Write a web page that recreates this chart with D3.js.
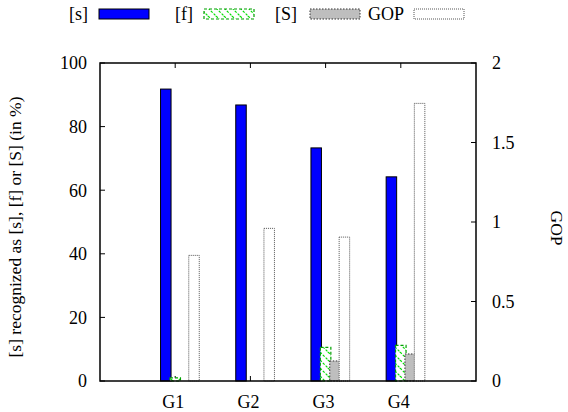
<!DOCTYPE html>
<html><head><meta charset="utf-8">
<script src="https://cdn.jsdelivr.net/npm/d3@7"></script>
<style>body{margin:0;background:#fff}</style>
</head><body><svg id="c" width="568" height="412" font-family="Liberation Serif, serif"></svg>
<script>
const groups = ["G1","G2","G3","G4"];
const sValues = [91.8, 86.8, 73.3, 64.2];
const fValues = [1.0, 0, 10.6, 11.2];
const SValues = [0, 0, 6.3, 8.5];
const gopValues = [0.79, 0.96, 0.905, 1.746];
const leftTicks = [0,20,40,60,80,100];
const rightTicks = [0,0.5,1,1.5,2];
const legendLabels = ["[s]","[f]","[S]","GOP"];

const FONT = "Liberation Serif, serif";
const svg = d3.select("#c");
const L=100, R=476, T=63, B=381;
const x = d3.scaleLinear().domain([-1,4]).range([L,R]);
const yL = d3.scaleLinear().domain([0,100]).range([B,T]);
const yR = d3.scaleLinear().domain([0,2]).range([B,T]);

const defs = svg.append("defs");
const pat = defs.append("pattern").attr("id","hatch").attr("patternUnits","userSpaceOnUse")
  .attr("width",8).attr("height",8);
pat.append("rect").attr("width",8).attr("height",8).attr("fill","#fff");
pat.append("path").attr("d","M0,0 L8,8 M-4,4 L0,8 M4,-4 L12,4").attr("stroke","#00e000").attr("stroke-width",1.2).attr("stroke-dasharray","2.5,1.5");

const slot = 0.125, bw = 10.5;
const series = [
  {vals:sValues, scale:yL, off:-1, fill:"#0000ff", stroke:"#000", dash:null, sw:1},
  {vals:fValues, scale:yL, off:0, fill:"url(#hatch)", stroke:"#00a000", dash:"3,2", sw:1.2},
  {vals:SValues, scale:yL, off:1, fill:"#bebebe", stroke:"#333", dash:"1.5,1.5", sw:1},
  {vals:gopValues, scale:yR, off:2, fill:"#fff", stroke:"#555", dash:"1,1", sw:1}
];

const txt = (sel)=>sel.attr("font-family",FONT).style("font-family",FONT).attr("fill","#000");

// axes ticks
const gAx = svg.append("g");
gAx.selectAll(".lt").data(leftTicks).join("line")
  .attr("x1",L).attr("x2",L+5).attr("y1",d=>yL(d)).attr("y2",d=>yL(d)).attr("stroke","#000");
txt(gAx.selectAll(".ltl").data(leftTicks).join("text")
  .attr("x",L-13).attr("y",d=>yL(d)).attr("dy","0.35em").attr("text-anchor","end")
  .attr("font-size",18).text(d=>d));
gAx.selectAll(".rt").data(rightTicks).join("line")
  .attr("x1",R-5).attr("x2",R).attr("y1",d=>yR(d)).attr("y2",d=>yR(d)).attr("stroke","#000");
txt(gAx.selectAll(".rtl").data(rightTicks).join("text")
  .attr("x",R+16).attr("y",d=>yR(d)).attr("dy","0.35em").attr("text-anchor","start")
  .attr("font-size",18).text(d=>d));
gAx.selectAll(".tt").data(groups).join("line")
  .attr("x1",(d,i)=>x(i)).attr("x2",(d,i)=>x(i)).attr("y1",T).attr("y2",T+5).attr("stroke","#000");
gAx.selectAll(".bt").data(groups).join("line")
  .attr("x1",(d,i)=>x(i)).attr("x2",(d,i)=>x(i)).attr("y1",B).attr("y2",B-5).attr("stroke","#000");
txt(gAx.selectAll(".xl").data(groups).join("text")
  .attr("x",(d,i)=>x(i)-2).attr("y",B+27).attr("text-anchor","middle")
  .attr("font-size",18).text(d=>d));

// bars
series.forEach(s=>{
  svg.append("g").selectAll("rect").data(s.vals).join("rect")
    .attr("x",(d,i)=>x(i+s.off*slot)-bw/2)
    .attr("width",bw)
    .attr("y",d=>s.scale(d))
    .attr("height",d=>B-s.scale(d))
    .attr("fill",s.fill).attr("stroke",s.stroke).attr("stroke-width",s.sw)
    .attr("stroke-dasharray",s.dash);
});

// frame
svg.append("rect").attr("x",L).attr("y",T).attr("width",R-L).attr("height",B-T)
  .attr("fill","none").attr("stroke","#000").attr("stroke-width",1.5);

// axis titles
txt(svg.append("text").attr("transform",`translate(21,${(T+B)/2+5}) rotate(-90)`)
  .attr("text-anchor","middle").attr("font-size",17.5)
  .text("[s] recognized as [s], [f] or [S] (in %)"));
txt(svg.append("text").attr("transform",`translate(551,${(T+B)/2+6}) rotate(90)`)
  .attr("text-anchor","middle").attr("font-size",17.5).text("GOP"));

// legend
const legX = [88, 193, 297, 404];
const boxX = [99, 204, 310, 414];
const lg = svg.append("g");
legendLabels.forEach((lab,i)=>{
  txt(lg.append("text").attr("x",legX[i]).attr("y",14).attr("dy","0.35em").attr("text-anchor","end")
    .attr("font-size",18).text(lab));
  const s = series[i];
  lg.append("rect").attr("x",boxX[i]).attr("y",9).attr("width",50).attr("height",10)
    .attr("fill",s.fill).attr("stroke",s.stroke).attr("stroke-width",s.sw).attr("stroke-dasharray",s.dash);
});
</script></body></html>
